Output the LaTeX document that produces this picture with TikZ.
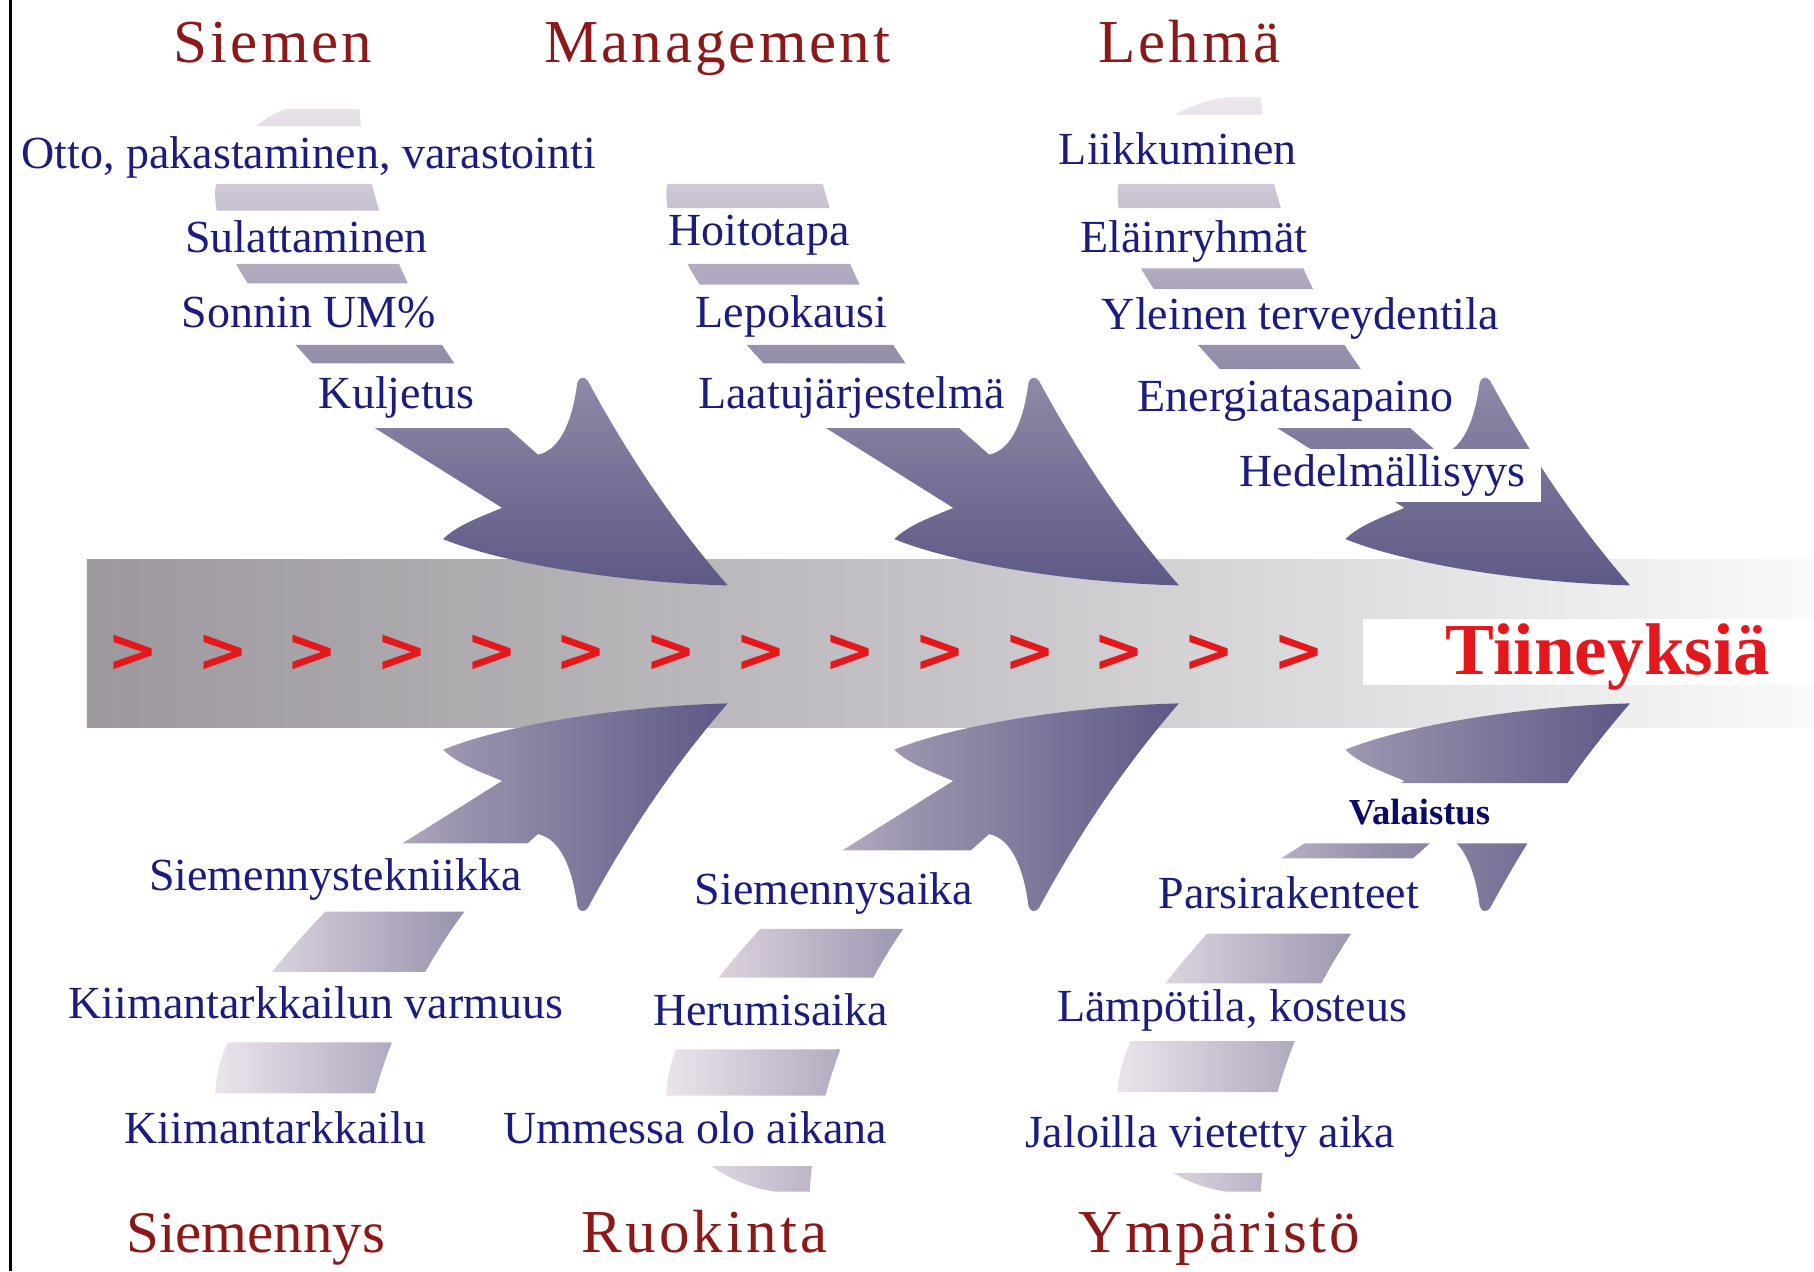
\documentclass[tikz,border=0pt]{standalone}
\usepackage{fontspec}
\setmainfont{Liberation Serif}
\newfontfamily\catfont[LetterSpace=5]{Liberation Serif}
\newfontfamily\chevfont{DejaVu Sans}
\definecolor{catred}{RGB}{140,24,24}
\definecolor{causeblue}{RGB}{28,28,128}
\definecolor{valblue}{RGB}{10,10,105}
\definecolor{chevred}{RGB}{228,24,28}
\definecolor{boneL}{RGB}{242,234,240}
\definecolor{boneM}{RGB}{152,145,172}
\definecolor{boneD}{RGB}{90,86,132}
\definecolor{spineL}{RGB}{156,152,157}
\definecolor{spineM}{RGB}{198,196,200}
\definecolor{spineR}{RGB}{250,250,250}
\tikzset{cattitle/.style={text=catred,font=\catfont\fontsize{15}{15}\selectfont,anchor=base,inner sep=0pt}}
\tikzset{cause/.style={text=causeblue,font=\fontsize{11.3}{12}\selectfont,anchor=base,inner sep=0pt}}
\tikzset{chev/.style={text=chevred,font=\chevfont\bfseries\fontsize{15}{15}\selectfont,inner sep=0pt}}
\tikzset{upbone/.style={top color=boneL,bottom color=boneD,middle color=boneM}}
\tikzset{lowbone/.style={left color=boneL,right color=boneD,middle color=boneM}}
% one bone: band plus curved head, spine centre at y=0
\newcommand{\boneoutline}{(280,473) -- (310,473) .. controls (315,367) and (370,257) .. (439,187)
  -- (465,164) .. controls (485,168) and (495,195) .. (499,226)
  .. controls (500,231) and (505,232) .. (508,228)
  .. controls (543,163) and (583,104) .. (629,51)
  .. controls (545,53) and (440,68) .. (383,91)
  .. controls (395,103) and (415,110) .. (434,118) -- (324,187)
  .. controls (255,257) and (185,327) .. (186,392)
  .. controls (190,432) and (235,467) .. (280,473) -- cycle}

\begin{document}
\begin{tikzpicture}[x=0.01cm,y=0.01cm]
\useasboundingbox (0,-542) rectangle (1568,557);
\draw[line width=0.6pt] (9,-542) -- (9,557);
% spine
\shade[left color=spineL,right color=spineR,middle color=spineM] (75,-72) rectangle (1568,73);

% Siemen
\begin{scope}
\clip \boneoutline;
\clip (170,448) rectangle (640,463) (170,375) rectangle (640,398) (170,312) rectangle (640,329)
  (170,243) rectangle (640,259) (465,187) rectangle (640,243) (170,30) rectangle (640,187);
\shade[upbone] (170,40) rectangle (640,480);
\end{scope}
% Management
\begin{scope}
\clip[shift={(390,0)}] \boneoutline;
\clip (560,377) rectangle (1030,398) (560,311) rectangle (1030,329) (560,243) rectangle (1030,259)
  (855,187) rectangle (1030,243) (560,30) rectangle (1030,187);
\shade[upbone] (560,40) rectangle (1030,480);
\end{scope}
% Lehma
\begin{scope}
\clip[shift={(780,0)}] \boneoutline;
\clip (950,458) rectangle (1420,480) (950,377) rectangle (1420,398) (950,307) rectangle (1420,325)
  (950,238) rectangle (1420,259) (1245,187) rectangle (1420,238) (950,30) rectangle (1420,187);
\shade[upbone] (950,40) rectangle (1420,480);
\end{scope}
% Siemennys
\begin{scope}
\clip[yscale=-1] \boneoutline;
\clip (170,-172) rectangle (640,-30) (469,-231) rectangle (640,-172) (170,-283) rectangle (640,-231)
  (170,-388) rectangle (640,-344);
\shade[lowbone] (170,-480) rectangle (640,-40);
\end{scope}
% Ruokinta
\begin{scope}
\clip[shift={(390,0)},yscale=-1] \boneoutline;
\clip (560,-178) rectangle (1030,-30) (859,-246) rectangle (1030,-178) (560,-288) rectangle (1030,-246)
  (560,-390) rectangle (1030,-350) (560,-480) rectangle (1030,-451);
\shade[lowbone] (560,-480) rectangle (1030,-40);
\end{scope}
% Ymparisto
\begin{scope}
\clip[shift={(780,0)},yscale=-1] \boneoutline;
\clip (950,-120) rectangle (1420,-30) (950,-185) rectangle (1420,-172) (1249,-250) rectangle (1420,-185)
  (950,-293) rectangle (1420,-250) (950,-387) rectangle (1420,-343) (950,-480) rectangle (1420,-457);
\shade[lowbone] (950,-480) rectangle (1420,-40);
\end{scope}

\foreach \i in {0,...,13}
  \node[chev] (chev\i) at ({115+77.5*\i},-8) {>};
\fill[white] (1178,-35) rectangle (1568,22);
\node[anchor=base,inner sep=0pt,text=chevred,font=\bfseries\fontsize{18}{18}\selectfont] (tiineys) at (1390,-26) {Tiineyksiä};

\node[cattitle] (siemen) at (236,503) {Siemen};
\node[cattitle] (management) at (620,503) {Management};
\node[cattitle] (lehma) at (1028,503) {Lehmä};
\node[cattitle,font=\rmfamily\fontsize{14.5}{15}\selectfont] (siemennys) at (221,-526) {Siemennys};
\node[cattitle] (ruokinta) at (609,-526) {Ruokinta};
\node[cattitle] (ymparisto) at (1054,-526) {Ympäristö};

\node[cause] (otto) at (267,411.5) {Otto, pakastaminen, varastointi};
\node[cause] (sulatus) at (265,339) {Sulattaminen};
\node[cause] (sonnin) at (267,274) {Sonnin UM\%};
\node[cause] (kuljetus) at (343,204) {Kuljetus};
\node[cause] (hoito) at (656,345) {Hoitotapa};
\node[cause] (lepo) at (684,274) {Lepokausi};
\node[cause] (laatu) at (736,204) {Laatujärjestelmä};
\node[cause] (liikkuminen) at (1018,415) {Liikkuminen};
\node[cause] (elaimet) at (1032,339) {Eläinryhmät};
\node[cause] (terveys) at (1124,272.5) {Yleinen terveydentila};
\node[cause] (energia) at (1120,201) {Energiatasapaino};
\node[cause,fill=white,inner xsep=3.7pt,inner ysep=1.4pt] (hedelma) at (1195,136.5) {Hedelmällisyys};
\node[cause] (tekniikka) at (290,-213) {Siemennystekniikka};
\node[cause] (varmuus) at (273,-323.5) {Kiimantarkkailun varmuus};
\node[cause] (kiima) at (238,-431) {Kiimantarkkailu};
\node[cause] (siemaika) at (721,-225) {Siemennysaika};
\node[cause] (herumis) at (666,-329) {Herumisaika};
\node[cause] (ummessa) at (601,-431) {Ummessa olo aikana};
\node[cause,text=valblue,font=\bfseries\fontsize{9}{10}\selectfont] (valaistus) at (1227,-156) {Valaistus};
\node[cause] (parsi) at (1114,-228) {Parsirakenteet};
\node[cause] (lampo) at (1065,-326) {Lämpötila, kosteus};
\node[cause] (jaloilla) at (1046,-435) {Jaloilla vietetty aika};
\end{tikzpicture}
\end{document}
